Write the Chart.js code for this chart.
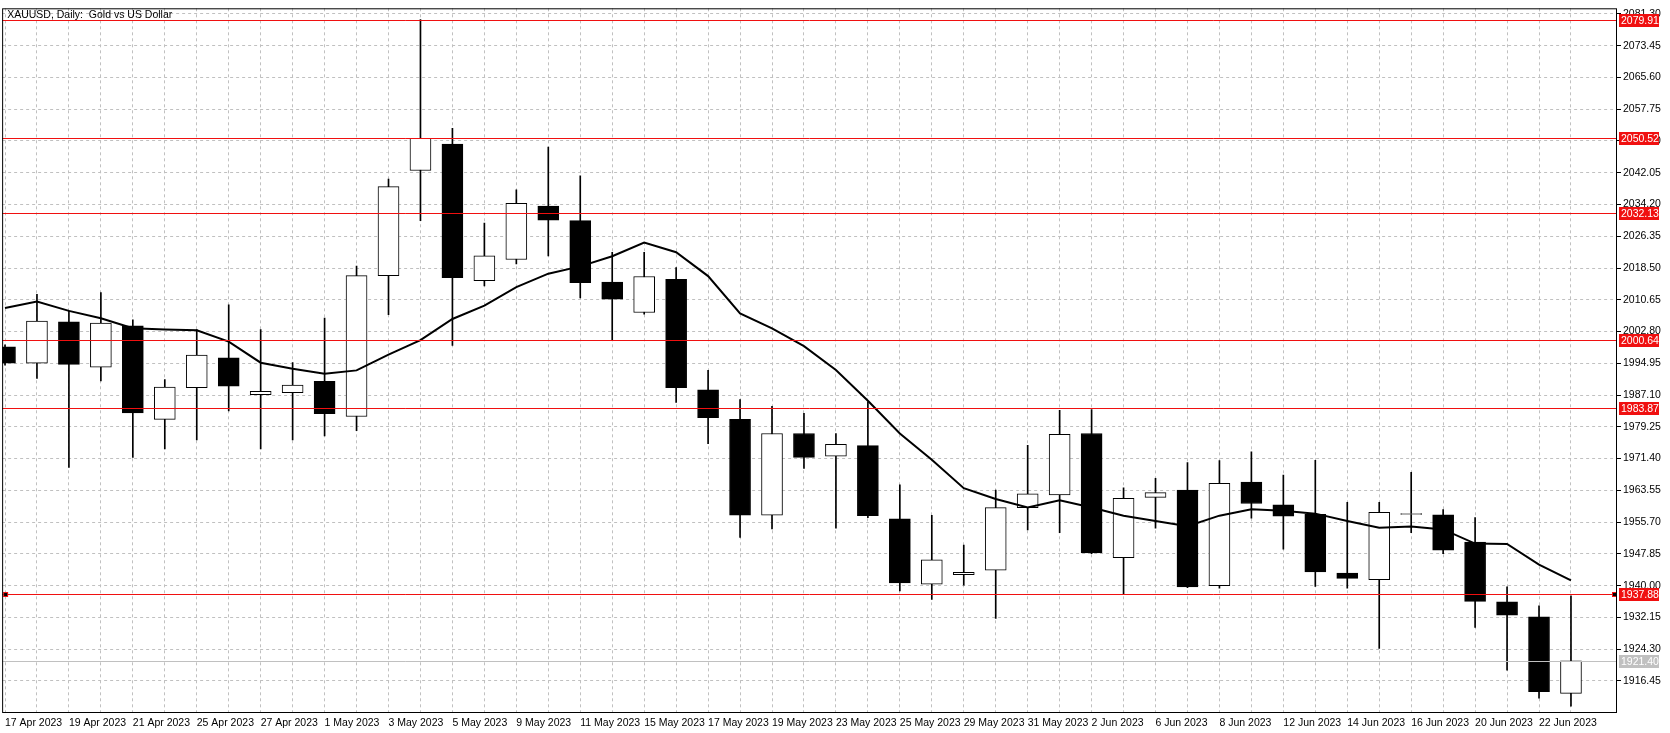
<!DOCTYPE html>
<html>
<head>
<meta charset="utf-8">
<script src="https://cdn.jsdelivr.net/npm/chart.js@4"></script>
<style>
  html, body { margin: 0; padding: 0; background: #fff; }
  #wrap { width: 1670px; height: 733px; }
</style>
</head>
<body>
<div id="wrap"><canvas id="myChart"></canvas></div>
<script>
const dates = ['17 Apr','18 Apr','19 Apr','20 Apr','21 Apr','24 Apr','25 Apr','26 Apr','27 Apr','28 Apr',
  '1 May','2 May','3 May','4 May','5 May','8 May','9 May','10 May','11 May','12 May',
  '15 May','16 May','17 May','18 May','19 May','22 May','23 May','24 May','25 May','26 May',
  '29 May','30 May','31 May','1 Jun','2 Jun','5 Jun','6 Jun','7 Jun','8 Jun','9 Jun',
  '12 Jun','13 Jun','14 Jun','15 Jun','16 Jun','19 Jun','20 Jun','21 Jun','22 Jun','23 Jun'];

const opens = [1999.0,1995.0,2005.2,1994.0,2004.2,1981.1,1988.9,1996.3,1987.2,1987.7,
  1990.5,1981.8,2016.6,2042.6,2049.1,2015.4,2020.6,2033.8,2030.2,2015.0,
  2007.5,2015.7,1988.4,1981.1,1957.4,1977.6,1972.0,1974.6,1956.5,1940.4,
  1942.7,1943.8,1959.3,1962.4,1977.6,1946.9,1961.8,1963.6,1940.0,1965.6,
  1960.0,1957.6,1943.1,1941.5,1957.6,1957.5,1950.8,1936.0,1932.3,1913.4];
const highs = [1999.5,2012.0,2007.9,2012.4,2005.7,1990.9,2003.3,2009.4,2003.3,1995.1,
  2006.1,2019.0,2040.5,2079.91,2053.0,2029.6,2037.8,2048.4,2041.3,2022.4,
  2022.4,2018.6,1993.2,1986.0,1984.3,1982.6,1977.6,1985.4,1964.9,1957.4,
  1950.0,1963.6,1974.7,1983.3,1983.5,1964.2,1966.5,1970.4,1970.9,1973.1,
  1967.3,1971.0,1960.6,1960.6,1968.0,1958.8,1956.8,1939.7,1935.0,1937.5];
const lows = [1994.5,1991.2,1969.2,1990.6,1971.7,1973.8,1976.0,1983.2,1973.8,1976.0,
  1977.0,1978.3,2007.0,2030.2,1999.4,2014.1,2019.5,2021.5,2011.1,2000.6,
  2007.1,1985.3,1975.1,1951.9,1954.0,1969.0,1954.2,1956.8,1938.7,1936.6,
  1940.1,1931.9,1953.8,1953.1,1947.9,1937.9,1954.2,1939.5,1939.4,1956.7,
  1949.0,1939.8,1939.4,1924.5,1953.1,1947.9,1929.7,1919.1,1912.2,1910.2];
const closes = [1995.0,2005.4,1994.7,2004.9,1982.7,1989.1,1997.0,1989.3,1988.0,1989.6,
  1982.5,2016.6,2038.6,2050.52,2016.1,2021.5,2034.5,2030.3,2014.9,2010.8,
  2016.4,1988.9,1981.5,1957.4,1977.6,1971.7,1974.9,1957.3,1940.7,1946.4,
  1943.3,1959.3,1962.7,1977.4,1948.1,1961.6,1963.0,1939.7,1965.3,1960.3,
  1957.2,1943.4,1941.8,1958.1,1957.8,1948.8,1936.1,1932.7,1913.8,1921.4];
const maLine = [2008.6,2010.2,2007.9,2006.1,2003.6,2003.3,2003.1,2000.3,1995.1,1993.6,
  1992.4,1993.2,1997.1,2000.7,2005.9,2009.2,2013.8,2017.1,2018.9,2021.4,
  2024.8,2022.4,2016.5,2007.3,2003.6,1999.2,1993.3,1985.7,1977.6,1971.1,
  1964.1,1961.4,1959.3,1961.1,1959.3,1957.3,1956.0,1954.7,1957.3,1958.9,
  1958.5,1957.8,1956.0,1954.3,1954.6,1953.9,1950.4,1950.3,1945.2,1941.3];

const redLevels = [2079.91, 2050.52, 2032.13, 2000.64, 1983.87, 1937.88];
const bidLevel = 1921.40;
const yTicks = [];
for (let k = 0; k <= 21; k++) yTicks.push(+(2081.30 - 7.85 * k).toFixed(2));

const wicks = dates.map((d, i) => ({ x: i, y: [lows[i], highs[i]] }));
const bodies = dates.map((d, i) => ({ x: i, y: [Math.min(opens[i], closes[i]), Math.max(opens[i], closes[i])] }));
const bodyColors = dates.map((d, i) => closes[i] >= opens[i] ? '#ffffff' : '#000000');

const font = { family: 'Liberation Sans', size: 10.5 };

const levelsPlugin = {
  id: 'levels',
  afterDatasetsDraw(chart) {
    const { ctx, chartArea: a, scales: { y } } = chart;
    ctx.save();
    ctx.font = '10.5px Liberation Sans';
    ctx.textBaseline = 'middle';
    const drawLevel = (v, color) => {
      const py = Math.round(y.getPixelForValue(v)) + 0.5;
      ctx.strokeStyle = color;
      ctx.lineWidth = 1;
      ctx.beginPath();
      ctx.moveTo(a.left, py);
      ctx.lineTo(a.right, py);
      ctx.stroke();
      ctx.fillStyle = color;
      ctx.fillRect(a.right + 2, py - 6.5, 40, 13);
      ctx.fillStyle = '#ffffff';
      ctx.textAlign = 'left';
      ctx.fillText(v.toFixed(2), a.right + 4, py + 1);
    };
    drawLevel(bidLevel, '#c0c0c0');
    redLevels.forEach(v => drawLevel(v, '#f01010'));
    const py = Math.round(y.getPixelForValue(1937.88));
    ctx.fillStyle = '#f01010';
    ctx.fillRect(a.left + 1, py - 2, 5, 5);
    ctx.fillRect(a.right - 5, py - 2, 5, 5);
    ctx.fillStyle = '#000';
    ctx.fillRect(a.left + 2, py - 1, 3, 3);
    ctx.fillRect(a.right - 4, py - 1, 3, 3);
    // frame
    ctx.strokeStyle = '#000';
    ctx.strokeRect(a.left + 0.5, a.top + 0.5, a.right - a.left - 1, a.bottom - a.top);
    ctx.fillStyle = '#000';
    ctx.textAlign = 'left';
    ctx.fillText('XAUUSD, Daily:  Gold vs US Dollar', a.left + 5, a.top + 7);
    ctx.restore();
  }
};

const ctx = document.getElementById('myChart').getContext('2d');
const chart = new Chart(ctx, {
  type: 'bar',
  data: {
    datasets: [
      { type: 'line', data: maLine.map((v, i) => ({ x: i, y: v })), borderColor: '#000', borderWidth: 2,
        pointRadius: 0, tension: 0, order: 1 },
      { data: bodies, backgroundColor: bodyColors, borderColor: '#000', borderWidth: 1,
        borderSkipped: false, barThickness: 21, grouped: false, order: 2 },
      { data: wicks, backgroundColor: '#000', borderWidth: 0, barThickness: 1, grouped: false, order: 3 }
    ]
  },
  options: {
    responsive: true,
    maintainAspectRatio: false,
    animation: false,
    devicePixelRatio: 1,
    layout: { padding: { left: 1, top: 3, right: 0, bottom: 0 } },
    plugins: { legend: { display: false }, tooltip: { enabled: false } },
    scales: {
      x: {
        type: 'linear',
        offset: false,
        min: -0.09,
        max: 50.44,
        afterBuildTicks: (s) => { s.ticks = dates.map((d, i) => ({ value: i })); },
        afterFit: (s) => { s.height = 21; },
        grid: { color: '#c0c0c0', tickLength: 0, lineWidth: 1, offset: false },
        border: { display: false, dash: [3, 3] },
        ticks: {
          autoSkip: false, maxRotation: 0, align: 'start', color: '#000', font, padding: 5,
          callback: (v) => (v % 2 === 0 ? dates[v] + ' 2023' : '')
        }
      },
      y: {
        position: 'right',
        min: 1908.78,
        max: 2082.68,
        afterBuildTicks: (s) => { s.ticks = yTicks.map(v => ({ value: v })); },
        afterFit: (s) => { s.width = 53; },
        grid: { color: '#c0c0c0', tickLength: 4, tickColor: '#000' },
        border: { display: false, dash: [3, 3] },
        ticks: { color: '#000', font, padding: 2, callback: (v) => v.toFixed(2) }
      }
    }
  },
  plugins: [levelsPlugin]
});
</script>
</body>
</html>
